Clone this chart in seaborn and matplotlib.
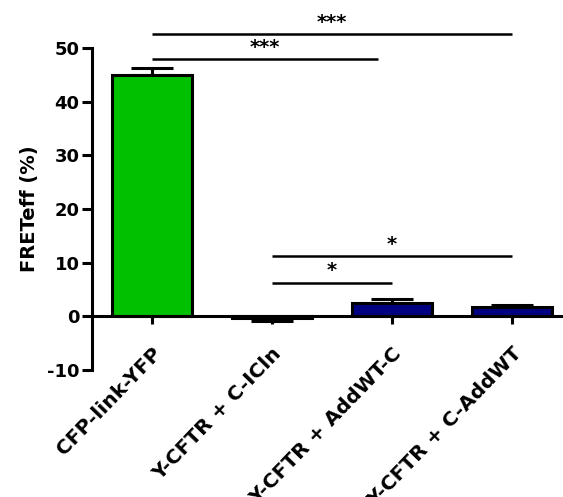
import matplotlib
matplotlib.use("Agg")
import matplotlib.pyplot as plt
import seaborn as sns
import pandas as pd

# values
categories = ["CFP-link-YFP", "Y-CFTR + C-ICln", "Y-CFTR + AddWT-C", "Y-CFTR + C-AddWT"]
means = [45.0, -0.4, 2.4, 1.8]
sems = [1.3, 0.5, 0.9, 0.4]
bar_colors = ["#00C000", "#000080", "#000080", "#000080"]
yticks = [-10, 0, 10, 20, 30, 40, 50]

# significance brackets: (start group, end group, height, label)
comparisons = [(0, 3, 52.6, "***"), (0, 1.88, 48.0, "***"), (1, 3, 11.2, "*"), (1, 2, 6.3, "*")]

sns.set_style("ticks")
plt.rcParams["font.family"] = ["DejaVu Sans"]
plt.rcParams["font.weight"] = "bold"
plt.rcParams["text.color"] = "black"
plt.rcParams["axes.labelcolor"] = "black"
plt.rcParams["xtick.color"] = "black"
plt.rcParams["ytick.color"] = "black"
plt.rcParams["axes.edgecolor"] = "black"

df = pd.DataFrame({"group": categories, "fret": means})

fig = plt.figure(figsize=(5.63, 4.97), dpi=100)
ax = fig.add_axes([0.1634, 0.2555, 0.8366, 0.6479])

sns.barplot(data=df, x="group", y="fret", hue="group", palette=bar_colors,
            legend=False, width=0.66, edgecolor="black", linewidth=2.2,
            saturation=1, errorbar=None, ax=ax, zorder=3)

# one-sided error bars (away from zero)
for i, (m, s) in enumerate(zip(means, sems)):
    err = [[0], [s]] if m >= 0 else [[s], [0]]
    ax.errorbar(i, m, yerr=err, fmt="none", ecolor="black", elinewidth=2.2,
                capsize=15, capthick=2.2, zorder=2)

# axis line at zero (set before tick styling, it resets ticks)
ax.spines["top"].set_visible(False)
ax.spines["right"].set_visible(False)
ax.spines["left"].set_linewidth(2.2)
ax.spines["bottom"].set_linewidth(2.2)
ax.spines["bottom"].set_position(("data", 0))
ax.spines["bottom"].set_zorder(4)

ax.set_xlim(-0.5, 3.425)
ax.set_ylim(-10, 50)
ax.set_yticks(yticks)
ax.set_yticklabels([str(t) for t in yticks], fontsize=13, fontweight="bold")
ax.set_xticks(range(len(categories)))
ax.set_xticklabels(categories, rotation=46, ha="right", rotation_mode="anchor",
                   fontsize=14.5, fontweight="bold")
ax.set_xlabel("")
ax.set_ylabel("FRETeff (%)", fontsize=14, fontweight="bold", labelpad=6)

ax.tick_params(axis="y", length=7, width=2.2, direction="out", pad=2)
ax.tick_params(axis="x", length=6, width=2.2, direction="out", pad=14)

for x0, x1, h, lab in comparisons:
    ax.plot([x0, x1], [h, h], color="black", lw=1.8, clip_on=False, solid_capstyle="butt")
    ax.text((x0 + x1) / 2, h + 0.4, lab, ha="center", va="bottom",
            fontsize=14, fontweight="bold", clip_on=False)

fig.savefig("out.png", dpi=100)
